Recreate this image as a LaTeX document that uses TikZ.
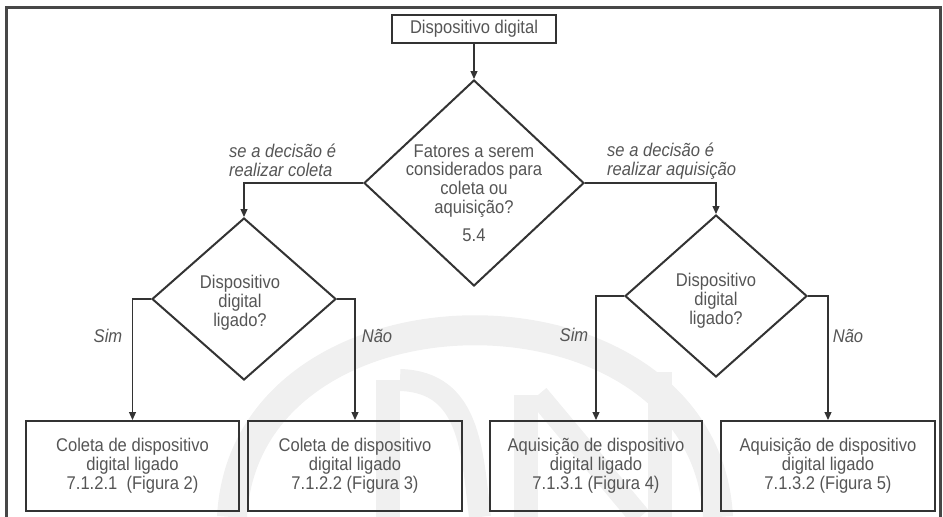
\documentclass[tikz,border=0pt]{standalone}
\usepackage{fontspec}
\setmainfont{Liberation Sans}[FakeStretch=0.9]
\usetikzlibrary{shapes.geometric,arrows.meta}
\definecolor{linegray}{HTML}{333333}
\definecolor{textgray}{HTML}{555555}
\definecolor{wmgray}{HTML}{F0F0F0}
\begin{document}
\begin{tikzpicture}[x=1pt, y=-1pt,
  font=\fontsize{18.4}{18.8}\selectfont,
  box/.style={draw=linegray, line width=2pt, text=textgray, align=center, inner sep=0pt},
  decision/.style={diamond, draw=linegray, line width=2pt, inner sep=0pt},
  txt/.style={text=textgray, align=center, inner sep=0pt},
  note/.style={text=textgray, align=left, inner sep=0pt, font=\fontsize{18.4}{18.8}\selectfont\itshape},
  arr/.style={draw=linegray, line width=1.2pt, -{Triangle[length=8pt,width=7pt]}},
  wm/.style={draw=wmgray, line width=24pt}]
\useasboundingbox (0,0) rectangle (943,517);
% watermark
\draw[wm, line width=30pt] (232,517) .. controls (245,268) and (705,268) .. (718,517);
\draw[wm] (388,380) -- (388,517);
\draw[wm, line width=22pt] (400,380) .. controls (470,382) and (472,450) .. (480,517);
\draw[wm] (526,395) -- (526,517);
\draw[wm, line width=22pt] (538,395) -- (640,517);
\draw[wm] (660,372) -- (660,517);
% frame
\draw[line width=3pt, draw=black!72] (6,517) -- (6,7) -- (940,7) -- (940,517);
% nodes
\node[box, minimum width=164pt, minimum height=28pt] (dev) at (474,29) {Dispositivo digital};
\node[decision, minimum width=220pt, minimum height=206pt] (fat) at (474,183) {};
\node[txt] (fattxt) at (474,193) {Fatores a serem\\considerados para\\coleta ou\\aquisição?\\[9pt]5.4};
\node[decision, minimum width=184pt, minimum height=162pt] (lig1) at (244,299) {};
\node[txt] (lig1txt) at (240,303) {Dispositivo\\digital\\ligado?};
\node[decision, minimum width=182pt, minimum height=162pt] (lig2) at (716,296) {};
\node[txt] (lig2txt) at (716,301) {Dispositivo\\digital\\ligado?};
\node[box, minimum width=213pt, minimum height=90pt] (col1) at (132.5,466) {Coleta de dispositivo\\digital ligado\\7.1.2.1\ \ (Figura 2)};
\node[box, minimum width=214pt, minimum height=90pt] (col2) at (355,466) {Coleta de dispositivo\\digital ligado\\7.1.2.2 (Figura 3)};
\node[box, minimum width=212pt, minimum height=90pt] (aqu1) at (596,466) {Aquisição de dispositivo\\digital ligado\\7.1.3.1 (Figura 4)};
\node[box, minimum width=214pt, minimum height=90pt] (aqu2) at (828,466) {Aquisição de dispositivo\\digital ligado\\7.1.3.2 (Figura 5)};
% labels
\node[note, anchor=west] (colnote) at (229,160) {se a decisão é\\realizar coleta};
\node[note, anchor=west] (aqunote) at (607,161) {se a decisão é\\realizar aquisição};
\node[note] (sim1) at (108,336) {Sim};
\node[note] (nao1) at (377,336) {Não};
\node[note] (sim2) at (574,335) {Sim};
\node[note] (nao2) at (848,336) {Não};
% connectors
\draw[arr] (dev.south) -- (fat.north);
\draw[arr] (fat.west) -| (lig1.north);
\draw[arr] (fat.east) -| (lig2.north);
\draw[arr] (lig1.west) -| (col1.north);
\draw[arr] (lig1.east) -| (col2.north);
\draw[arr] (lig2.west) -| (aqu1.north);
\draw[arr] (lig2.east) -| (aqu2.north);
\end{tikzpicture}
\end{document}
